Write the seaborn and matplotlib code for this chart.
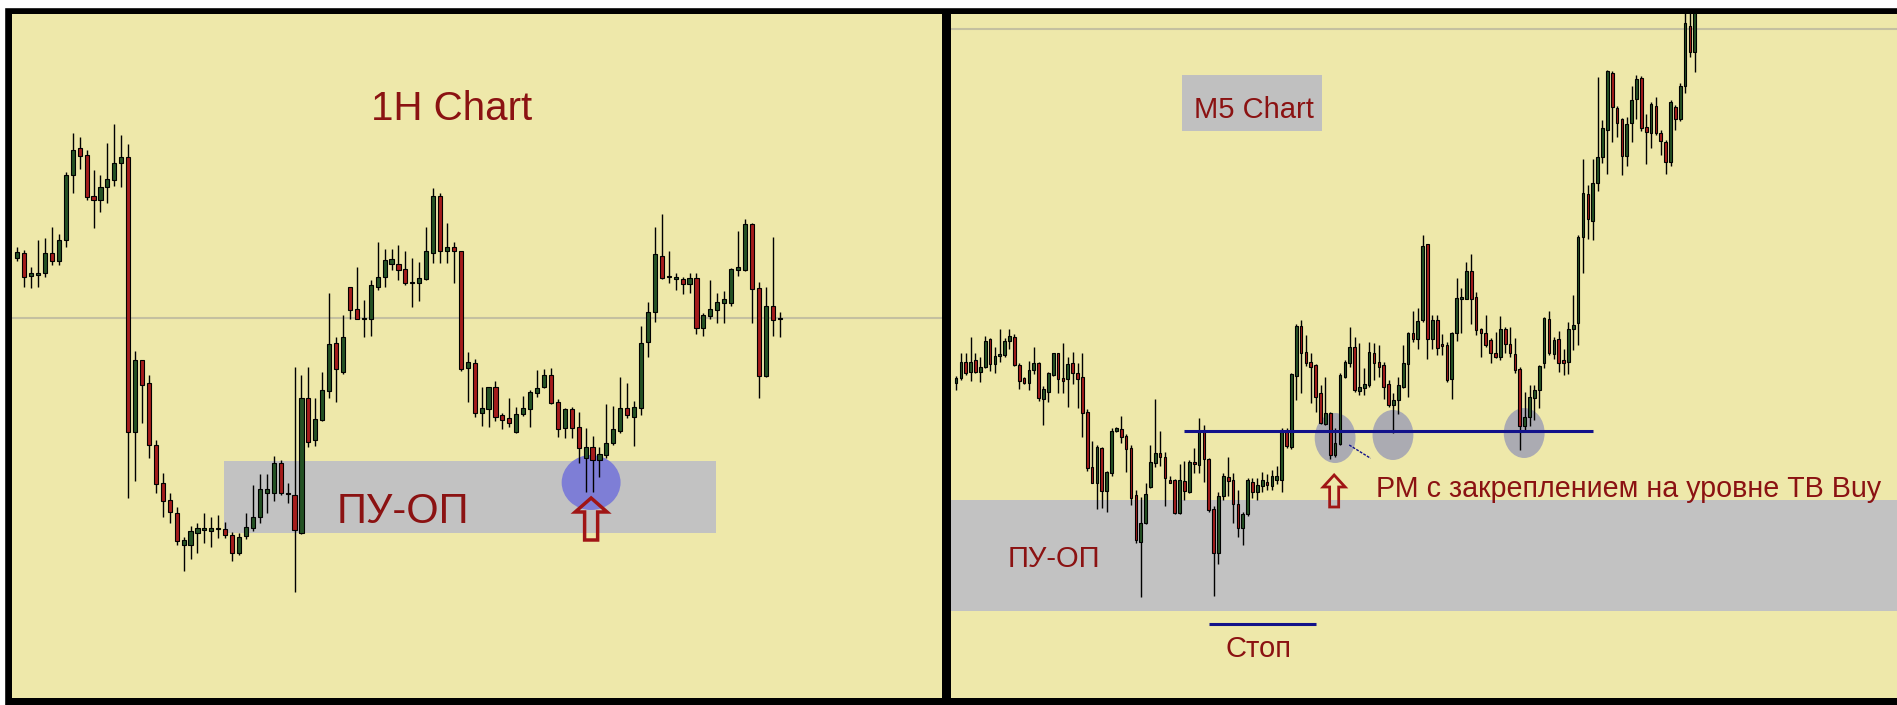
import matplotlib
matplotlib.use("Agg")
import matplotlib.pyplot as plt
import seaborn as sns
import numpy as np
from matplotlib.patches import Rectangle, Ellipse, Polygon

# ---- 1H chart candles (price units) ----
h1_open = [442, 447, 424, 425, 427, 447, 439, 460, 525, 552,
           545, 504, 500, 513, 520, 537, 543, 268, 340, 317,
           255, 217, 200, 187, 155, 155, 167, 170, 169, 171,
           171, 165, 147, 164, 172, 183, 207, 207, 237, 207,
           205, 167, 302, 260, 280, 309, 357, 328, 413, 391,
           381, 381, 413, 423, 436, 436, 431, 417, 417, 421,
           447, 504, 449, 453, 449, 332, 337, 287, 291, 313,
           285, 282, 268, 286, 291, 307, 313, 325, 298, 272,
           291, 273, 242, 253, 240, 245, 257, 269, 292, 283,
           292, 358, 388, 444, 423, 421, 421, 416, 422, 372,
           384, 390, 397, 397, 430, 430, 476, 412, 324, 394,
           381]
h1_high = [453, 450, 433, 460, 462, 473, 466, 528, 567, 563,
           550, 530, 525, 557, 576, 565, 556, 349, 340, 325,
           260, 227, 207, 193, 163, 174, 177, 187, 183, 185,
           178, 168, 167, 187, 215, 226, 226, 244, 240, 217,
           333, 325, 333, 302, 328, 407, 363, 385, 413, 433,
           400, 420, 458, 451, 451, 455, 449, 442, 438, 473,
           512, 507, 477, 458, 449, 348, 341, 313, 313, 319,
           287, 302, 293, 304, 310, 330, 331, 332, 301, 292,
           293, 288, 272, 264, 253, 296, 294, 323, 317, 299,
           374, 398, 473, 486, 449, 427, 423, 427, 427, 387,
           420, 407, 409, 432, 469, 481, 477, 418, 413, 463,
           388]
h1_low = [439, 413, 412, 413, 423, 435, 435, 453, 507, 531,
          500, 472, 488, 497, 514, 513, 202, 219, 277, 242,
          207, 183, 177, 155, 129, 141, 147, 157, 153, 162,
          162, 139, 145, 161, 169, 177, 187, 199, 205, 197,
          108, 166, 253, 254, 279, 302, 298, 326, 381, 381,
          363, 364, 410, 413, 430, 420, 415, 393, 399, 420,
          437, 437, 437, 417, 329, 298, 283, 274, 273, 279,
          271, 273, 267, 284, 273, 303, 312, 296, 263, 262,
          262, 237, 208, 208, 223, 242, 255, 267, 282, 254,
          285, 343, 378, 421, 417, 410, 406, 407, 366, 364,
          381, 377, 377, 394, 424, 429, 377, 302, 323, 364,
          363]
h1_close = [448, 423, 427, 427, 447, 439, 460, 525, 550, 544,
            503, 500, 513, 521, 537, 543, 268, 340, 315, 255,
            216, 199, 188, 159, 160, 169, 172, 172, 172, 172,
            165, 147, 163, 173, 183, 211, 211, 237, 207, 206,
            170, 302, 258, 281, 310, 356, 331, 363, 390, 381,
            382, 415, 423, 440, 441, 430, 417, 418, 422, 449,
            504, 449, 453, 449, 331, 338, 287, 292, 313, 283,
            280, 277, 286, 292, 308, 312, 325, 297, 271, 291,
            272, 252, 253, 240, 246, 257, 271, 292, 285, 293,
            357, 388, 446, 422, 424, 423, 416, 422, 372, 385,
            391, 398, 401, 431, 433, 476, 411, 324, 394, 380,
            382]

# ---- M5 chart candles ----
m5_open = [317, 322, 338, 328, 340, 328, 333, 361, 336, 344,
           345, 359, 363, 335, 322, 317, 330, 337, 301, 308,
           325, 347, 322, 321, 337, 327, 323, 288, 233, 217,
           252, 209, 227, 269, 271, 264, 252, 205, 158, 177,
           213, 237, 247, 243, 220, 220, 187, 219, 208, 238,
           235, 269, 241, 191, 147, 204, 223, 220, 196, 172,
           186, 218, 208, 214, 218, 214, 220, 220, 269, 253,
           324, 374, 348, 338, 335, 307, 276, 287, 245, 256,
           323, 337, 353, 309, 312, 315, 347, 338, 335, 316,
           295, 300, 313, 336, 367, 361, 380, 456, 361, 380,
           356, 355, 321, 367, 401, 401, 429, 403, 371, 367,
           360, 347, 343, 371, 356, 346, 331, 274, 283, 302,
           310, 337, 381, 346, 361, 340, 338, 371, 377, 463,
           506, 479, 517, 543, 570, 627, 592, 581, 544, 577,
           601, 622, 573, 567, 594, 567, 558, 538, 593, 581,
           614, 674, 648]
m5_high = [324, 347, 347, 363, 347, 343, 364, 362, 353, 371,
           362, 371, 366, 337, 323, 339, 353, 338, 314, 328,
           347, 347, 357, 343, 348, 337, 347, 291, 259, 255,
           253, 229, 272, 273, 284, 266, 255, 210, 203, 217,
           255, 301, 269, 248, 224, 221, 236, 239, 240, 252,
           282, 275, 242, 194, 208, 227, 243, 227, 210, 188,
           222, 222, 222, 228, 226, 230, 234, 272, 272, 327,
           376, 380, 365, 347, 336, 315, 323, 288, 272, 327,
           340, 373, 363, 357, 332, 358, 357, 355, 338, 320,
           307, 323, 355, 368, 389, 392, 465, 456, 385, 385,
           366, 358, 368, 422, 412, 438, 446, 408, 372, 385,
           362, 368, 384, 373, 373, 362, 333, 308, 315, 315,
           335, 383, 389, 363, 369, 351, 378, 405, 465, 541,
           515, 541, 623, 580, 630, 629, 594, 582, 583, 614,
           625, 624, 586, 598, 603, 570, 560, 600, 595, 617,
           700, 700, 710]
m5_low = [310, 320, 325, 319, 327, 318, 332, 329, 327, 338,
          343, 351, 334, 311, 316, 310, 326, 299, 275, 298,
          324, 307, 307, 293, 316, 292, 263, 229, 217, 191,
          192, 188, 224, 268, 257, 228, 195, 157, 103, 176,
          212, 233, 234, 194, 217, 186, 186, 200, 207, 227,
          227, 218, 188, 104, 136, 200, 204, 177, 163, 155,
          184, 202, 200, 208, 210, 210, 216, 208, 252, 251,
          300, 307, 334, 297, 288, 276, 275, 241, 243, 255,
          322, 333, 308, 305, 305, 313, 320, 323, 301, 293,
          267, 286, 312, 303, 358, 351, 378, 341, 351, 345,
          345, 318, 301, 359, 367, 401, 376, 365, 343, 353,
          337, 342, 340, 347, 343, 327, 250, 269, 274, 280,
          292, 332, 345, 341, 328, 325, 326, 350, 355, 427,
          461, 460, 509, 537, 526, 558, 563, 525, 534, 558,
          581, 569, 536, 552, 565, 545, 526, 534, 570, 579,
          607, 643, 628]
m5_close = [322, 338, 327, 338, 328, 333, 359, 336, 344, 346,
            359, 364, 335, 319, 317, 330, 337, 302, 311, 327,
            347, 321, 319, 336, 327, 321, 287, 232, 217, 253,
            209, 228, 269, 272, 263, 251, 202, 160, 177, 206,
            238, 247, 243, 222, 217, 187, 220, 209, 238, 236,
            269, 241, 190, 147, 204, 224, 219, 196, 172, 186,
            220, 208, 215, 220, 215, 224, 224, 270, 254, 326,
            374, 347, 337, 333, 303, 277, 287, 245, 257, 325,
            338, 353, 310, 313, 316, 348, 337, 333, 313, 295,
            300, 315, 337, 367, 361, 379, 454, 361, 380, 352,
            354, 320, 367, 402, 403, 429, 401, 370, 367, 355,
            347, 343, 371, 356, 347, 330, 274, 283, 303, 310,
            334, 382, 347, 360, 337, 337, 371, 375, 463, 507,
            481, 517, 543, 572, 629, 593, 577, 544, 576, 600,
            621, 572, 568, 596, 567, 559, 538, 598, 581, 614,
            677, 648, 700]

# ---- levels / zones (price units) ----
h1_grid_level = 382
h1_zone = (167, 239)
m5_grid_level = 671
m5_zone = (89, 200)
m5_buy_level = 269.5
m5_stop_level = 76

BG = "#EEE8AA"
GREEN = "#245224"
RED = "#A51C1C"
TXT = "#8B1212"
NAVY = "#12128A"
ZONE = "#C2C2C2"

sns.set_style("white")
plt.rcParams["font.family"] = ["Liberation Sans", "DejaVu Sans"]


def draw_candles(ax, o, h, l, c, width):
    o, h, l, c = map(np.asarray, (o, h, l, c))
    x = np.arange(len(o))
    up = c >= o
    ax.vlines(x, l, h, color="black", lw=1.0, zorder=3)
    bottom = np.minimum(o, c)
    height = np.maximum(np.abs(c - o), 1.5)
    colors = np.where(up, GREEN, RED)
    ax.bar(x, height, width, bottom=bottom, color=colors,
           edgecolor="black", linewidth=0.8, zorder=4)


def draw_up_arrow(ax, x, top, bottom, head_h, head_w, shaft_w, lw):
    hb = top - head_h
    pts = [(x, top), (x + head_w, hb), (x + shaft_w, hb), (x + shaft_w, bottom),
           (x - shaft_w, bottom), (x - shaft_w, hb), (x - head_w, hb)]
    ax.add_patch(Polygon(pts, closed=True, fill=False, edgecolor="#A01515",
                         lw=lw, joinstyle="miter", zorder=6))


fig = plt.figure(figsize=(18.97, 7.05), dpi=100, facecolor="black")
# white margins of the screenshot
fig.add_artist(Rectangle((0, 698 / 705), 1, 7 / 705, transform=fig.transFigure,
                         color="white", zorder=0))
fig.add_artist(Rectangle((0, 0), 4 / 1897, 1, transform=fig.transFigure,
                         color="white", zorder=0))

ax1 = fig.add_axes([12 / 1897, 7 / 705, 930 / 1897, 684 / 705])
ax2 = fig.add_axes([951 / 1897, 7 / 705, 946 / 1897, 684 / 705])

for ax in (ax1, ax2):
    ax.set_facecolor(BG)
    ax.set_xticks([])
    ax.set_yticks([])
    for s in ax.spines.values():
        s.set_visible(False)
    ax.set_ylim(2, 686)

# ---------------- 1H chart ----------------
ax1.set_xlim(-0.765, 133.43)
ax1.axhline(h1_grid_level, color="#C4C0A0", lw=1.5, zorder=1)
ax1.add_patch(Rectangle((29.8, h1_zone[0]), 71.0, h1_zone[1] - h1_zone[0],
                        color=ZONE, zorder=1.5, lw=0))
ax1.add_patch(Ellipse((82.8, 217.5), 8.5, 55, color="#7E7ED6", zorder=2, lw=0))
draw_candles(ax1, h1_open, h1_high, h1_low, h1_close, 0.6)
draw_up_arrow(ax1, 82.8, 202, 160, 14, 2.3, 0.94, 2.5)
ax1.text(62.7, 579.5, "1H Chart", color=TXT, fontsize=29, ha="center",
         va="baseline", zorder=7)
ax1.text(55.6, 177, "ПУ-ОП", color=TXT, fontsize=30, ha="center",
         va="baseline", zorder=7)

# ---------------- M5 chart ----------------
ax2.set_xlim(-1.03, 193.6)
ax2.axhline(m5_grid_level, color="#C4C0A0", lw=1.5, zorder=1)
ax2.add_patch(Rectangle((-2, m5_zone[0]), 200, m5_zone[1] - m5_zone[0],
                        color=ZONE, zorder=1.5, lw=0))
for cx, cy in [(78.0, 262), (89.9, 265), (116.9, 267)]:
    ax2.add_patch(Ellipse((cx, cy), 8.4, 50, color="#ABABB2", zorder=2, lw=0))
draw_candles(ax2, m5_open, m5_high, m5_low, m5_close, 0.55)
ax2.hlines(m5_buy_level, 46.9, 131.1, color=NAVY, lw=2.2, zorder=5)
ax2.hlines(m5_stop_level, 52.0, 74.1, color=NAVY, lw=2.2, zorder=5)
ax2.plot([80.9, 85.3], [255, 241.7], color=NAVY, lw=1, ls=(0, (2, 1)), zorder=5)
ax2.add_patch(Rectangle((46.5, 569), 28.8, 56, color="#C0C0C0", zorder=1.5, lw=0))
ax2.text(61.3, 582, "M5 Chart", color=TXT, fontsize=21, ha="center",
         va="baseline", zorder=7)
ax2.text(20.1, 133, "ПУ-ОП", color=TXT, fontsize=21, ha="center",
         va="baseline", zorder=7)
ax2.text(62.3, 43, "Стоп", color=TXT, fontsize=21, ha="center",
         va="baseline", zorder=7)
draw_up_arrow(ax2, 77.8, 225, 193, 12, 2.26, 0.93, 2.0)
ax2.text(86.5, 203, "РМ с закреплением на уровне ТВ Buy", color=TXT,
         fontsize=20.6, ha="left", va="baseline", zorder=7)

fig.savefig("out.png", dpi=100, facecolor=fig.get_facecolor())
